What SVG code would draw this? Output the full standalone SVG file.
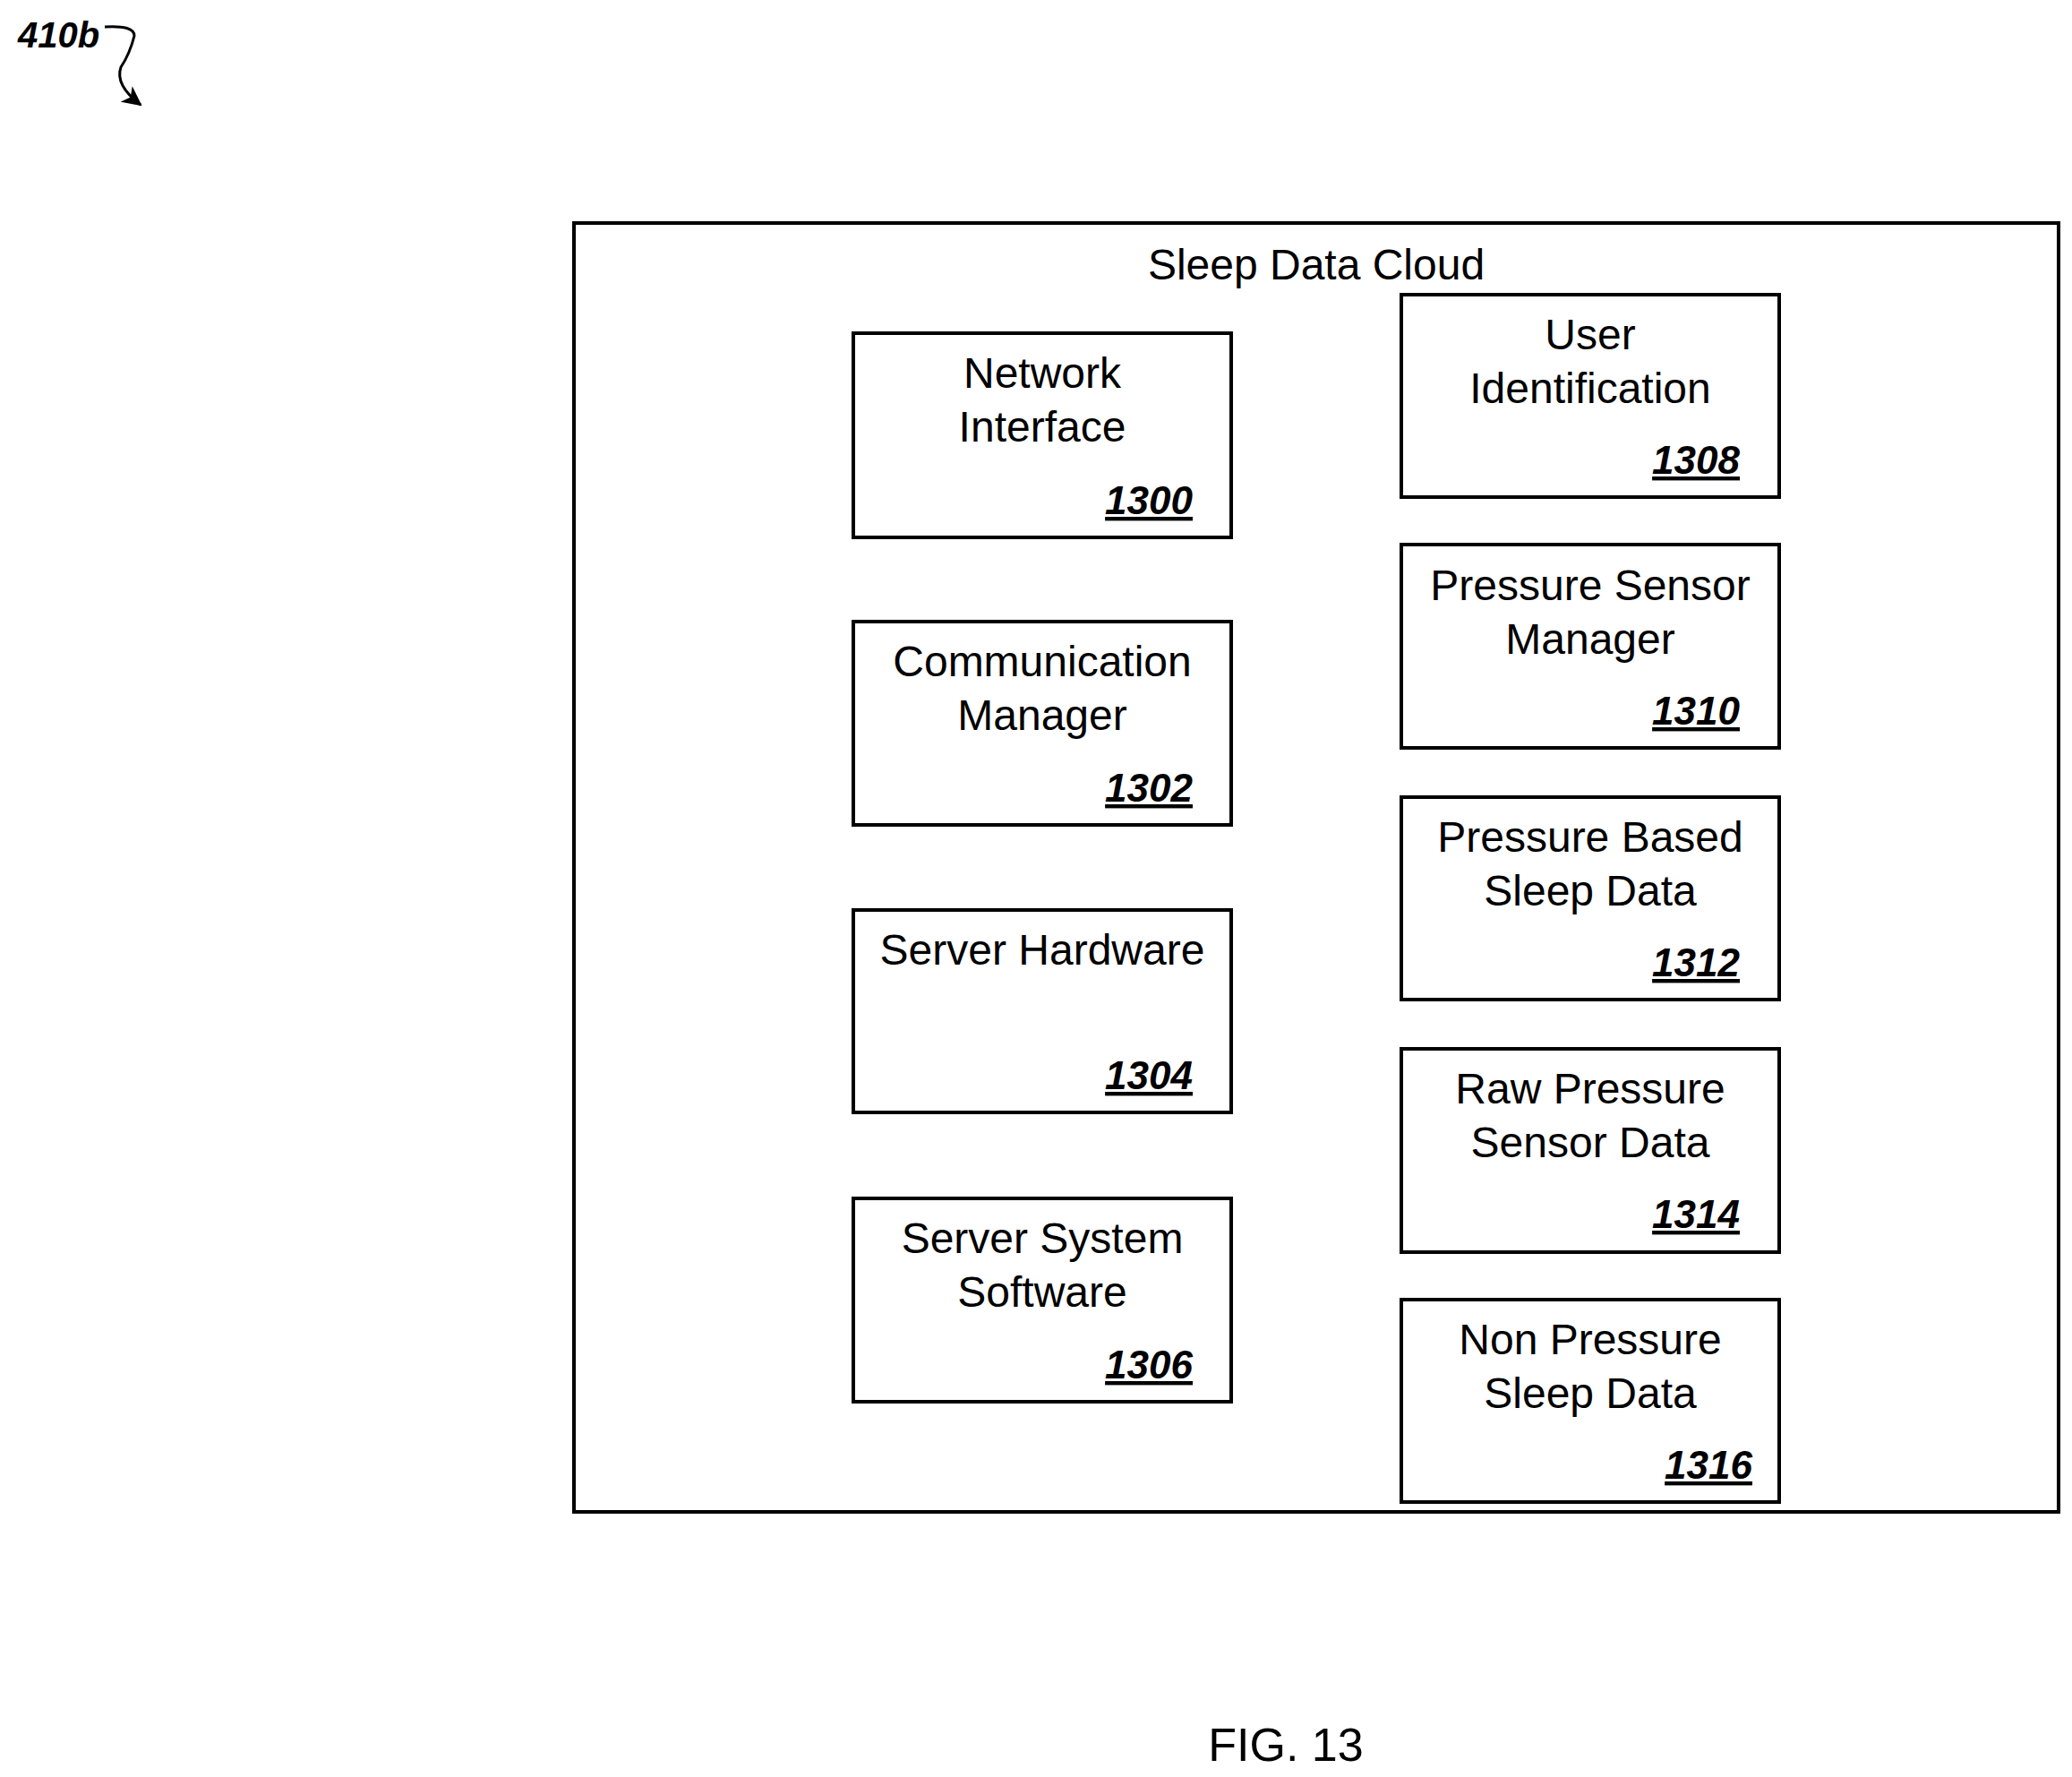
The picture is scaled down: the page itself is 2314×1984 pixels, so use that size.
<svg xmlns="http://www.w3.org/2000/svg" width="2314" height="1984" viewBox="0 0 2314 1984">
<style>
.b{fill:#fff;stroke:#000;stroke-width:4}
.t{font-family:"Liberation Sans",Arial,sans-serif;font-size:48px;text-anchor:middle;fill:#000}
.n{font-family:"Liberation Sans",Arial,sans-serif;font-size:44px;font-weight:bold;font-style:italic;text-anchor:end;text-decoration:underline;fill:#000}
</style>
<defs><marker id="a" markerWidth="22" markerHeight="22" refX="20" refY="11" orient="auto" markerUnits="userSpaceOnUse" viewBox="0 0 22 22"><path d="M0,0L22,11L0,22L6,11z"/></marker></defs>
<rect width="2314" height="1984" fill="#fff"/>
<text x="20" y="53" style="font-family:'Liberation Sans',Arial,sans-serif;font-size:40px;font-weight:bold;font-style:italic">410b</text>
<g id="connectors"><path d="M117,30 Q150,28 150,40 Q145,60 135,75 Q128,95 157,117" fill="none" stroke="#000" stroke-width="3" marker-end="url(#a)"/></g>
<g id="cloud"><rect class="b" x="641" y="249" width="1658" height="1439"/><text class="t" x="1470" y="312">Sleep Data Cloud</text></g>
<g id="n1300"><rect class="b" x="953" y="372" width="422" height="228"/><text class="t" x="1164" y="433">Network</text><text class="t" x="1164" y="493">Interface</text><text class="n" x="1332" y="574">1300</text></g>
<g id="n1302"><rect class="b" x="953" y="694" width="422" height="227"/><text class="t" x="1164" y="755">Communication</text><text class="t" x="1164" y="815">Manager</text><text class="n" x="1332" y="895">1302</text></g>
<g id="n1304"><rect class="b" x="953" y="1016" width="422" height="226"/><text class="t" x="1164" y="1077">Server Hardware</text><text class="n" x="1332" y="1216">1304</text></g>
<g id="n1306"><rect class="b" x="953" y="1338" width="422" height="227"/><text class="t" x="1164" y="1399">Server System</text><text class="t" x="1164" y="1459">Software</text><text class="n" x="1332" y="1539">1306</text></g>
<g id="n1308"><rect class="b" x="1565" y="329" width="422" height="226"/><text class="t" x="1776" y="390">User</text><text class="t" x="1776" y="450">Identification</text><text class="n" x="1943" y="529">1308</text></g>
<g id="n1310"><rect class="b" x="1565" y="608" width="422" height="227"/><text class="t" x="1776" y="670">Pressure Sensor</text><text class="t" x="1776" y="730">Manager</text><text class="n" x="1943" y="809">1310</text></g>
<g id="n1312"><rect class="b" x="1565" y="890" width="422" height="226"/><text class="t" x="1776" y="951">Pressure Based</text><text class="t" x="1776" y="1011">Sleep Data</text><text class="n" x="1943" y="1090">1312</text></g>
<g id="n1314"><rect class="b" x="1565" y="1171" width="422" height="227"/><text class="t" x="1776" y="1232">Raw Pressure</text><text class="t" x="1776" y="1292">Sensor Data</text><text class="n" x="1943" y="1371">1314</text></g>
<g id="n1316"><rect class="b" x="1565" y="1451" width="422" height="226"/><text class="t" x="1776" y="1512">Non Pressure</text><text class="t" x="1776" y="1572">Sleep Data</text><text class="n" x="1957" y="1651">1316</text></g>
<text class="t" x="1436" y="1966" style="font-size:52px">FIG. 13</text>
</svg>
